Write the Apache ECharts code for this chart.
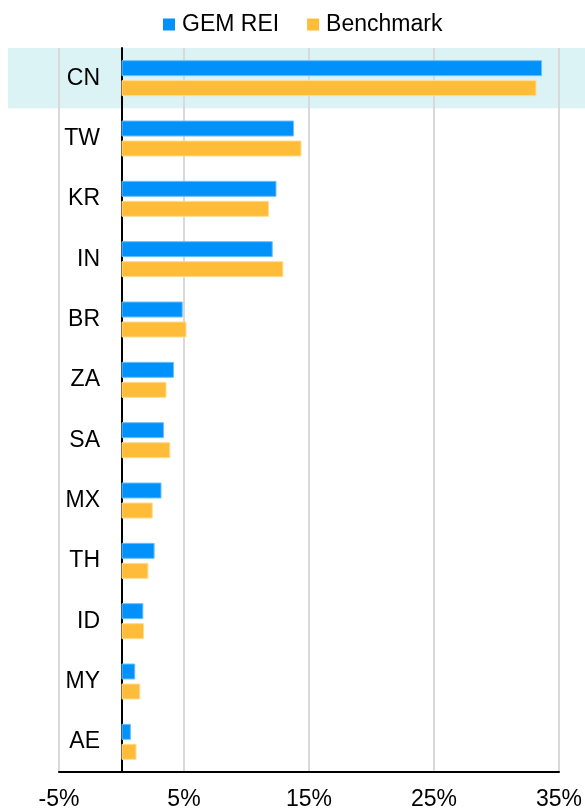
<!DOCTYPE html>
<html>
<head>
<meta charset="utf-8">
<script src="https://cdn.jsdelivr.net/npm/echarts@6/dist/echarts.min.js"></script>
<style>
  html, body { margin: 0; padding: 0; background: #fff; }
  #chart { width: 585px; height: 811px; }
</style>
</head>
<body>
<div id="chart"></div>
<script>
const countries = ['CN', 'TW', 'KR', 'IN', 'BR', 'ZA', 'SA', 'MX', 'TH', 'ID', 'MY', 'AE']
const gemRei = [33.65, 13.8, 12.4, 12.1, 4.9, 4.2, 3.4, 3.2, 2.65, 1.75, 1.1, 0.75]
const benchmark = [33.2, 14.4, 11.8, 12.95, 5.2, 3.6, 3.9, 2.5, 2.15, 1.8, 1.5, 1.2]
const xTicks = { min: -5, max: 35, step: 10 }
const highlighted = 'CN'

const chart = echarts.init(document.getElementById('chart'))
const font = 'Liberation Sans, Arial, sans-serif'

const option = {
  animation: false,
  legend: {
    top: 8,
    left: 158,
    itemWidth: 12,
    itemHeight: 12,
    itemGap: 28,
    icon: 'rect',
    itemStyle: { borderWidth: 0 },
    textStyle: { fontFamily: font, fontSize: 23, color: '#000', padding: [0, 0, 0, 2] },
    data: ['GEM REI', 'Benchmark']
  },
  grid: { left: 59, right: 25, top: 48, bottom: 39 },
  xAxis: {
    type: 'value',
    min: xTicks.min,
    max: xTicks.max,
    interval: xTicks.step,
    axisLine: { show: true, lineStyle: { color: '#000', width: 2 } },
    axisTick: { show: false },
    axisLabel: {
      formatter: '{value}%',
      fontFamily: font,
      fontSize: 23,
      color: '#000',
      margin: 16
    },
    splitLine: { lineStyle: { color: '#d9d9d9', width: 2 } }
  },
  yAxis: {
    type: 'category',
    inverse: true,
    data: countries,
    axisLine: { onZero: true, lineStyle: { color: '#000', width: 2 } },
    axisTick: { show: false },
    axisLabel: { fontFamily: font, fontSize: 23, color: '#000', margin: -41 }
  },
  series: [
    {
      name: 'GEM REI',
      type: 'bar',
      barWidth: 16,
      barGap: '25%',
      itemStyle: { color: '#0091fa', borderColor: '#6cc0fb', borderWidth: 1 },
      data: gemRei
    },
    {
      name: 'Benchmark',
      type: 'bar',
      barWidth: 16,
      itemStyle: { color: '#ffbc38', borderColor: '#ffdc90', borderWidth: 1 },
      data: benchmark
    }
  ]
}

chart.setOption(option)

// highlight band behind the first row, spanning past the grid
const idx = countries.indexOf(highlighted)
const yc = chart.convertToPixel({ yAxisIndex: 0 }, idx)
const band = chart.getModel().getComponent('yAxis', 0).axis.getBandWidth()
chart.setOption({
  graphic: [{
    type: 'rect',
    z: -10,
    silent: true,
    shape: { x: 8, y: yc - band / 2, width: 577, height: band },
    style: { fill: '#dbf3f5' }
  }]
})
</script>
</body>
</html>
